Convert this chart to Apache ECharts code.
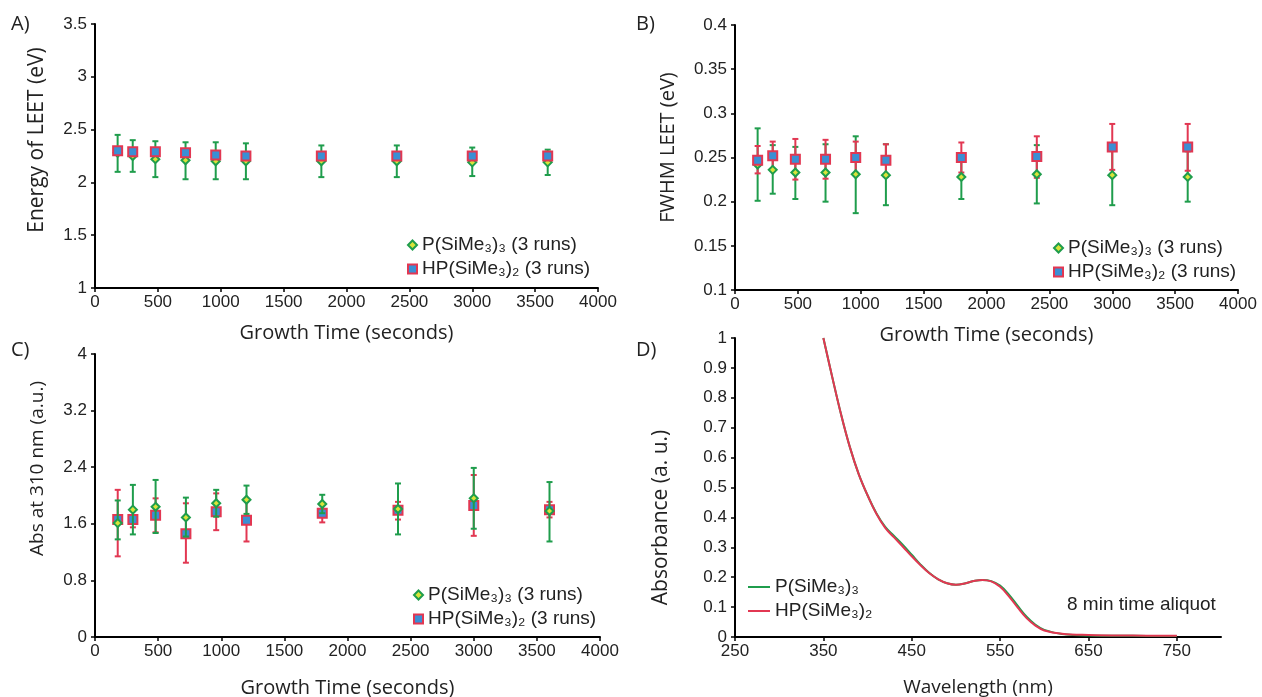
<!DOCTYPE html>
<html><head><meta charset="utf-8">
<script src="https://cdn.jsdelivr.net/npm/echarts@6/dist/echarts.min.js"></script>
<style>html,body{margin:0;padding:0;background:#fff}#c{width:1262px;height:697px}</style>
</head><body><div id="c"></div>
<script>
// ---------- data ----------
const times = [180, 300, 480, 720, 960, 1200, 1800, 2400, 3000, 3600];

// Panel A: Energy of LEET (eV)
const aP     = [2.28, 2.25, 2.22, 2.21, 2.20, 2.20, 2.20, 2.20, 2.19, 2.19];
const aPLo   = [2.10, 2.10, 2.05, 2.03, 2.03, 2.03, 2.05, 2.05, 2.06, 2.07];
const aPHi   = [2.45, 2.40, 2.39, 2.38, 2.38, 2.37, 2.35, 2.35, 2.33, 2.31];
const aHP    = [2.30, 2.29, 2.29, 2.28, 2.26, 2.25, 2.25, 2.25, 2.25, 2.25];
const aHPLo  = [2.27, 2.26, 2.26, 2.25, 2.23, 2.22, 2.22, 2.22, 2.22, 2.22];
const aHPHi  = [2.33, 2.32, 2.32, 2.31, 2.29, 2.28, 2.28, 2.28, 2.28, 2.28];

// Panel B: FWHM LEET (eV)
const bP     = [0.242, 0.236, 0.233, 0.233, 0.231, 0.230, 0.228, 0.231, 0.230, 0.228];
const bPLo   = [0.201, 0.209, 0.203, 0.200, 0.187, 0.196, 0.203, 0.198, 0.196, 0.200];
const bPHi   = [0.283, 0.264, 0.262, 0.265, 0.274, 0.265, 0.253, 0.264, 0.264, 0.257];
const bHP    = [0.247, 0.252, 0.248, 0.248, 0.250, 0.247, 0.250, 0.251, 0.262, 0.262];
const bHPLo  = [0.232, 0.236, 0.225, 0.226, 0.232, 0.228, 0.233, 0.227, 0.236, 0.235];
const bHPHi  = [0.263, 0.268, 0.271, 0.270, 0.268, 0.265, 0.267, 0.274, 0.288, 0.288];

// Panel C: Abs at 310 nm (a.u.)
const cP     = [1.61, 1.80, 1.84, 1.69, 1.89, 1.94, 1.88, 1.81, 1.96, 1.78];
const cPLo   = [1.38, 1.45, 1.47, 1.42, 1.70, 1.74, 1.75, 1.45, 1.53, 1.35];
const cPHi   = [1.93, 2.15, 2.22, 1.97, 2.08, 2.14, 2.01, 2.17, 2.39, 2.19];
const cHP    = [1.66, 1.66, 1.72, 1.46, 1.77, 1.65, 1.75, 1.79, 1.86, 1.80];
const cHPLo  = [1.14, 1.55, 1.48, 1.05, 1.51, 1.35, 1.62, 1.66, 1.43, 1.69];
const cHPHi  = [2.08, 1.78, 1.96, 1.89, 2.03, 1.94, 1.87, 1.91, 2.29, 1.91];

// Panel D: absorbance spectra (8 min aliquot)
const wl     = [350, 360, 370, 380, 390, 400, 410, 420, 430, 440, 450, 460, 470, 480, 490, 500, 510, 520, 530, 540, 550, 560, 570, 580, 590, 600, 620, 650, 700, 750];
const dP     = [1.00, 0.87, 0.745, 0.635, 0.545, 0.474, 0.414, 0.368, 0.338, 0.308, 0.275, 0.242, 0.214, 0.193, 0.180, 0.175, 0.179, 0.187, 0.191, 0.187, 0.172, 0.142, 0.104, 0.068, 0.041, 0.024, 0.010, 0.005, 0.004, 0.003];
const dHP    = [1.00, 0.87, 0.745, 0.635, 0.545, 0.474, 0.412, 0.365, 0.333, 0.302, 0.270, 0.240, 0.213, 0.193, 0.180, 0.175, 0.179, 0.187, 0.191, 0.186, 0.168, 0.136, 0.098, 0.063, 0.038, 0.022, 0.011, 0.007, 0.005, 0.004];

const dXTicks = [250, 350, 450, 550, 650, 750];

// ---------- helpers ----------
const zip = (xs, ys) => xs.map((x, i) => [x, ys[i]]);
const zip3 = (xs, lo, hi) => xs.map((x, i) => [x, lo[i], hi[i]]);

const GREEN = '#1f9d4c', RED = '#e23752', BLUE = '#3a8fd4', YEL = '#d9e43a';
const TICKFONT = 'Liberation Sans, Arial, sans-serif';
const TITLEFONT = 'Open Sans, sans-serif';

function errRender(params, api) {
  const x = api.value(0), lo = api.value(1), hi = api.value(2);
  const p1 = api.coord([x, lo]), p2 = api.coord([x, hi]);
  const w = 3;
  const st = { stroke: api.visual('color'), lineWidth: 2 };
  return { type: 'group', children: [
    { type: 'line', shape: { x1: p1[0], y1: p1[1], x2: p2[0], y2: p2[1] }, style: st },
    { type: 'line', shape: { x1: p1[0] - w, y1: p1[1], x2: p1[0] + w, y2: p1[1] }, style: st },
    { type: 'line', shape: { x1: p2[0] - w, y1: p2[1], x2: p2[0] + w, y2: p2[1] }, style: st }
  ]};
}

const fmtNum = v => String(+(+v).toFixed(2));

function xAxisCfg(gi, name, gap) {
  return {
    type: 'value', gridIndex: gi, min: 0, max: 4000, interval: 500,
    name: name, nameLocation: 'middle', nameGap: gap,
    nameTextStyle: { fontFamily: TITLEFONT, fontSize: 20, color: '#222' },
    axisLine: { lineStyle: { color: '#000', width: 2 } },
    axisTick: { length: 4, lineStyle: { color: '#000', width: 1.5 } },
    axisLabel: { fontFamily: TICKFONT, fontSize: 17, color: '#222', margin: 6, formatter: fmtNum },
    splitLine: { show: false }
  };
}
function yAxisCfg(gi, name, min, max, interval, gap, nameSize, pad) {
  return {
    type: 'value', gridIndex: gi, min: min, max: max, interval: interval,
    name: name, nameLocation: 'middle', nameGap: gap,
    nameTextStyle: { fontFamily: TITLEFONT, fontSize: nameSize, color: '#222', padding: pad },
    axisLine: { show: true, lineStyle: { color: '#000', width: 2 } },
    axisTick: { show: true, length: 4, lineStyle: { color: '#000', width: 1.5 } },
    axisLabel: { fontFamily: TICKFONT, fontSize: 17, color: '#222', margin: 8, formatter: fmtNum },
    splitLine: { show: false }
  };
}

function errSeries(name, gi, data, color, z) {
  return { type: 'custom', name: name, xAxisIndex: gi, yAxisIndex: gi, renderItem: errRender,
    encode: { x: 0, y: [1, 2] }, itemStyle: { color: color }, data: data, z: z, silent: true };
}
function pSeries(name, gi, data, z) {
  return { type: 'scatter', name: name, xAxisIndex: gi, yAxisIndex: gi, data: data, z: z,
    symbol: 'diamond', symbolSize: 8,
    itemStyle: { color: YEL, borderColor: GREEN, borderWidth: 2, opacity: 1 } };
}
function hpSeries(name, gi, data, z) {
  return { type: 'scatter', name: name, xAxisIndex: gi, yAxisIndex: gi, data: data, z: z,
    symbol: 'rect', symbolSize: 9,
    itemStyle: { color: BLUE, borderColor: RED, borderWidth: 2, opacity: 1 } };
}

const labelMap = {
  P_A: 'P(SiMe₃)₃ (3 runs)', HP_A: 'HP(SiMe₃)₂ (3 runs)',
  P_B: 'P(SiMe₃)₃ (3 runs)', HP_B: 'HP(SiMe₃)₂ (3 runs)',
  P_C: 'P(SiMe₃)₃ (3 runs)', HP_C: 'HP(SiMe₃)₂ (3 runs)',
  P_D: 'P(SiMe₃)₃', HP_D: 'HP(SiMe₃)₂'
};
const legendText = { fontFamily: TICKFONT, fontSize: 19, color: '#222', lineHeight: 22 };
function legendCfg(names, left, top, iw, ih) {
  return { orient: 'vertical', left: left, top: top, itemWidth: iw, itemHeight: ih, itemGap: 2,
    data: names, formatter: n => labelMap[n], textStyle: legendText, selectedMode: false, padding: 0 };
}

const chart = echarts.init(document.getElementById('c'), null, { renderer: 'canvas' });
chart.setOption({
  backgroundColor: '#fff',
  animation: false,
  grid: [
    { left: 95, top: 24, width: 503, height: 264, outerBoundsMode: 'none' },
    { left: 735, top: 25, width: 503, height: 265, outerBoundsMode: 'none' },
    { left: 95, top: 354, width: 505, height: 283, outerBoundsMode: 'none' },
    { left: 735, top: 338, width: 486, height: 299, outerBoundsMode: 'none' }
  ],
  xAxis: [
    xAxisCfg(0, 'Growth Time (seconds)', 35),
    xAxisCfg(1, 'Growth Time (seconds)', 35),
    xAxisCfg(2, 'Growth Time (seconds)', 41),
    {
      type: 'value', gridIndex: 3, min: 250, max: 800, interval: 50,
      name: 'Wavelength (nm)', nameLocation: 'middle', nameGap: 41,
      nameTextStyle: { fontFamily: TITLEFONT, fontSize: 19, color: '#222' },
      axisLine: { lineStyle: { color: '#000', width: 2 } },
      axisTick: { length: 4, lineStyle: { color: '#000', width: 1.5 }, customValues: dXTicks },
      axisLabel: { fontFamily: TICKFONT, fontSize: 17, color: '#222', margin: 6, customValues: dXTicks },
      splitLine: { show: false }
    }
  ],
  yAxis: [
    yAxisCfg(0, 'Energy of LEET (eV)', 1, 3.5, 0.5, 47, 21, [0, 0, 0, 32]),
    yAxisCfg(1, 'FWHM LEET (eV)', 0.1, 0.4, 0.05, 57, 20, [0, 0, 0, 20]),
    yAxisCfg(2, 'Abs at 310 nm (a.u.)', 0, 4, 0.8, 48, 19, [0, 0, 0, 54]),
    yAxisCfg(3, 'Absorbance (a. u.)', 0, 1, 0.1, 63, 21, [0, 60, 0, 0])
  ],
  legend: [
    legendCfg(['P_A', 'HP_A'], 407, 234, 9, 9),
    legendCfg(['P_B', 'HP_B'], 1053, 237, 9, 9),
    legendCfg(['P_C', 'HP_C'], 413, 584, 9, 9),
    Object.assign(legendCfg(['P_D', 'HP_D'], 748, 576, 22, 2), { icon: 'rect' })
  ],
  graphic: [
    { type: 'text', left: 11, top: 14, style: { text: 'A)', font: '20px Open Sans', fill: '#222' } },
    { type: 'text', left: 636, top: 14, style: { text: 'B)', font: '20px Open Sans', fill: '#222' } },
    { type: 'text', left: 11, top: 340, style: { text: 'C)', font: '20px Open Sans', fill: '#222' } },
    { type: 'text', left: 636, top: 340, style: { text: 'D)', font: '20px Open Sans', fill: '#222' } },
    { type: 'text', left: 1067, top: 595, style: { text: '8 min time aliquot', font: '19px Liberation Sans', fill: '#222' } }
  ],
  series: [
    // A
    errSeries('errHP_A', 0, zip3(times, aHPLo, aHPHi), RED, 2),
    errSeries('errP_A', 0, zip3(times, aPLo, aPHi), GREEN, 3),
    pSeries('P_A', 0, zip(times, aP), 4),
    hpSeries('HP_A', 0, zip(times, aHP), 5),
    // B
    errSeries('errP_B', 1, zip3(times, bPLo, bPHi), GREEN, 2),
    errSeries('errHP_B', 1, zip3(times, bHPLo, bHPHi), RED, 3),
    pSeries('P_B', 1, zip(times, bP), 4),
    hpSeries('HP_B', 1, zip(times, bHP), 5),
    // C
    errSeries('errHP_C', 2, zip3(times, cHPLo, cHPHi), RED, 2),
    hpSeries('HP_C', 2, zip(times, cHP), 3),
    errSeries('errP_C', 2, zip3(times, cPLo, cPHi), GREEN, 4),
    pSeries('P_C', 2, zip(times, cP), 5),
    // D
    { type: 'line', name: 'P_D', xAxisIndex: 3, yAxisIndex: 3, data: zip(wl, dP), smooth: 0.4,
      showSymbol: false, symbol: 'none', lineStyle: { color: GREEN, width: 2 }, itemStyle: { color: GREEN }, z: 2 },
    { type: 'line', name: 'HP_D', xAxisIndex: 3, yAxisIndex: 3, data: zip(wl, dHP), smooth: 0.4,
      showSymbol: false, symbol: 'none', lineStyle: { color: RED, width: 2 }, itemStyle: { color: RED }, z: 3 }
  ]
});
</script></body></html>
